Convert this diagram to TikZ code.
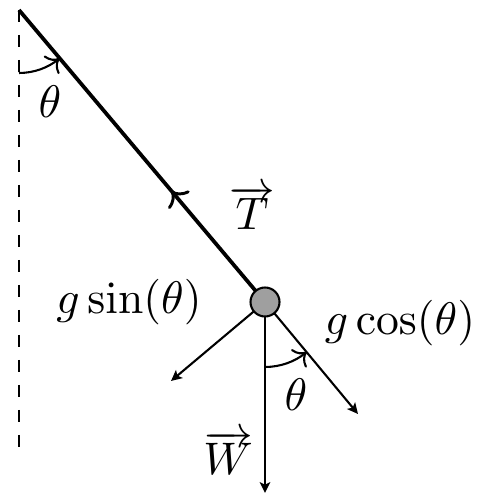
\documentclass[tikz,border=0pt]{standalone}
\usetikzlibrary{decorations.markings,calc,arrows.meta}
\begin{document}
\begin{tikzpicture}[x=0.24pt,y=-0.24pt,
  rope/.style={line width=0.9pt,postaction={decorate},
    decoration={markings,mark=at position 0.655 with {\arrow[line width=0.7pt]{<}}}},
  force/.style={-{Stealth[length=2.6pt,width=2.5pt,inset=0.6pt]},line width=0.5pt},
  anglearc/.style={->,line width=0.5pt},
  bobstyle/.style={circle,draw,fill=gray!75,minimum size=29*0.24pt,inner sep=0pt,line width=0.5pt},
  lbl/.style={inner sep=0pt,font=\fontsize{10.5}{12}\selectfont}]
\useasboundingbox (0,0) rectangle (496,503);
\coordinate (P) at (19,10);
\coordinate (D) at (19,453);
\coordinate (B) at (265,302);
\coordinate (W) at (265,493);
\coordinate (C) at (358,414);
\coordinate (S) at (171,381);
\draw[dashed,line width=0.5pt] (P) -- (D);
\draw[rope] (P) -- (B);
\draw[force] (B) -- (W);
\draw[force] (B) -- (C);
\draw[force] (B) -- (S);
\node[bobstyle] (bob) at (B) {};
\draw[anglearc] ($(P)+(0,63)$) arc[start angle=90,end angle=50,radius=63];
\draw[anglearc] ($(B)+(0,65)$) arc[start angle=90,end angle=50,radius=65];
\node[lbl] (th1) at (50,102) {$\theta$};
\node[lbl] (th2) at (296,395) {$\theta$};
\node[lbl] (T) at (252,208) {$\overrightarrow{T}$};
\node[lbl] (Wl) at (228,453) {$\overrightarrow{W}$};
\node[lbl] (gs) at (129,302) {$g\sin(\theta)$};
\node[lbl] (gc) at (400,323) {$g\cos(\theta)$};
\end{tikzpicture}
\end{document}
